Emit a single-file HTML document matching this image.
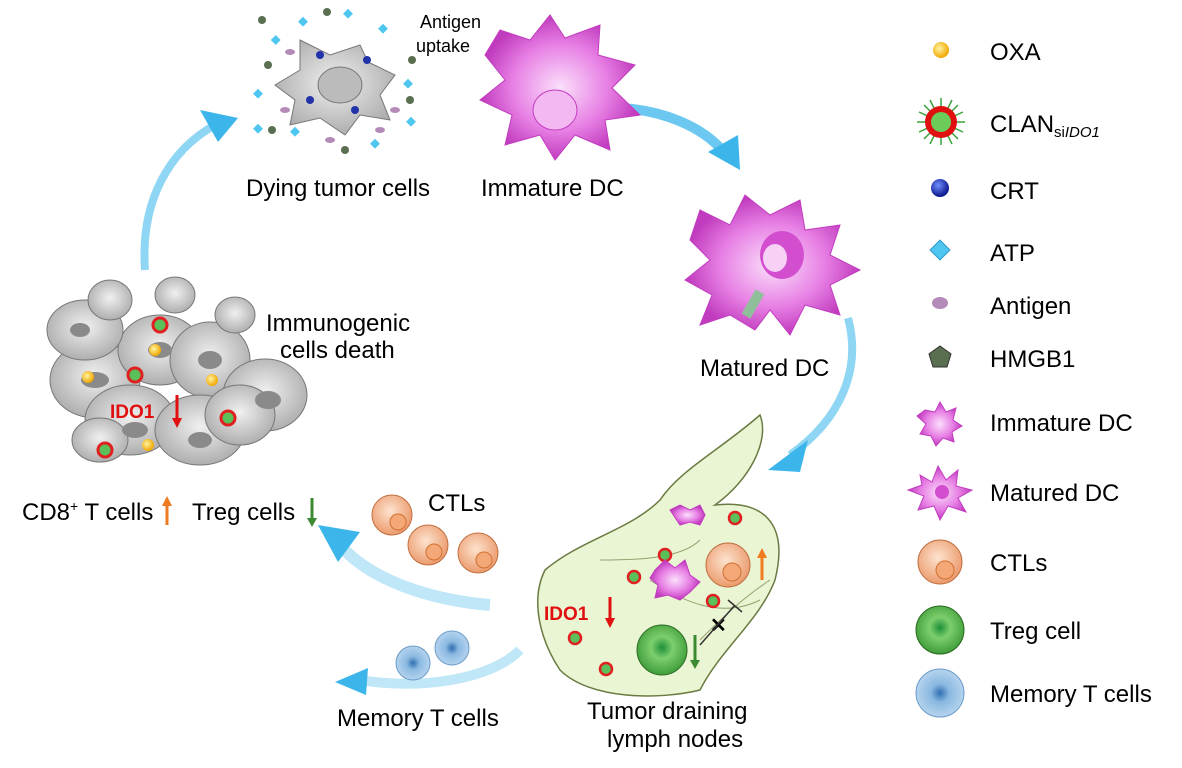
<!DOCTYPE html>
<html><head><meta charset="utf-8"><style>
body{margin:0;background:#fff;}
svg{display:block;font-family:"Liberation Sans",Arial,sans-serif;}
</style></head><body>
<svg width="1182" height="768" viewBox="0 0 1182 768" xmlns="http://www.w3.org/2000/svg">
<defs>
<radialGradient id="mag" cx="50%" cy="50%" r="50%"><stop offset="0" stop-color="#fbe0fb"/><stop offset="0.6" stop-color="#e77fe4"/><stop offset="1" stop-color="#c03bbd"/></radialGradient>
<radialGradient id="gray" cx="50%" cy="45%" r="60%"><stop offset="0" stop-color="#f0f0f0"/><stop offset="1" stop-color="#a8a8a8"/></radialGradient>
<radialGradient id="ctl" cx="45%" cy="40%" r="60%"><stop offset="0" stop-color="#fde3cf"/><stop offset="1" stop-color="#eb9a6c"/></radialGradient>
<radialGradient id="treg" cx="50%" cy="45%" r="55%"><stop offset="0" stop-color="#1d8f3a"/><stop offset="0.4" stop-color="#7ccf6c"/><stop offset="1" stop-color="#3f9c3a"/></radialGradient>
<radialGradient id="mem" cx="50%" cy="50%" r="55%"><stop offset="0" stop-color="#2f6fb0"/><stop offset="0.35" stop-color="#8ab8e0"/><stop offset="1" stop-color="#bcd8f0"/></radialGradient>
<radialGradient id="oxa" cx="40%" cy="40%" r="60%"><stop offset="0" stop-color="#fff3a0"/><stop offset="1" stop-color="#f0a800"/></radialGradient>
<radialGradient id="crt" cx="40%" cy="35%" r="60%"><stop offset="0" stop-color="#7090ff"/><stop offset="1" stop-color="#101a90"/></radialGradient>
</defs>

<!-- arrows -->
<path d="M145 270 C140 200 170 150 215 125" stroke="#8fd6f4" stroke-width="8" fill="none"/>
<polygon points="200,110 238,118 218,142" fill="#3cb6ea"/>
<path d="M620 108 C660 110 700 125 722 150" stroke="#6cc8f0" stroke-width="10" fill="none"/>
<polygon points="708,152 740,170 738,135" fill="#3cb6ea"/>
<path d="M848 318 C862 370 840 420 790 455" stroke="#8fd6f4" stroke-width="8" fill="none"/>
<polygon points="768,470 808,440 800,472" fill="#3cb6ea"/>
<path d="M490 605 C430 600 370 580 340 545" stroke="#bfe7f8" stroke-width="12" fill="none"/>
<polygon points="318,525 360,532 338,562" fill="#3cb6ea"/>
<path d="M520 650 C490 680 420 690 360 680" stroke="#bfe7f8" stroke-width="10" fill="none"/>
<polygon points="335,682 368,668 366,695" fill="#3cb6ea"/>

<!-- dying tumor cell -->
<path d="M300 40 L330 55 L360 45 L368 62 L395 75 L380 95 L390 120 L360 115 L345 135 L320 118 L290 125 L295 100 L275 85 L300 70 Z" fill="url(#gray)" stroke="#777"/>
<ellipse cx="340" cy="85" rx="22" ry="18" fill="#bbb" stroke="#777"/>
<g fill="#4ec6ef"><rect x="272" y="36" width="7" height="7" transform="rotate(45 275 40)"/><rect x="300" y="18" width="7" height="7" transform="rotate(45 303 21)"/><rect x="345" y="10" width="7" height="7" transform="rotate(45 348 13)"/><rect x="380" y="25" width="7" height="7" transform="rotate(45 383 28)"/><rect x="405" y="80" width="7" height="7" transform="rotate(45 408 83)"/><rect x="408" y="118" width="7" height="7" transform="rotate(45 411 121)"/><rect x="292" y="128" width="7" height="7" transform="rotate(45 295 131)"/><rect x="255" y="90" width="7" height="7" transform="rotate(45 258 93)"/><rect x="372" y="140" width="7" height="7" transform="rotate(45 375 143)"/><rect x="255" y="125" width="7" height="7" transform="rotate(45 258 128)"/></g>
<g fill="#5a6e50"><circle cx="262" cy="20" r="4"/><circle cx="327" cy="12" r="4"/><circle cx="412" cy="60" r="4"/><circle cx="268" cy="65" r="4"/><circle cx="272" cy="130" r="4"/><circle cx="345" cy="150" r="4"/><circle cx="410" cy="100" r="4"/></g>
<g fill="#2233aa"><circle cx="310" cy="100" r="4"/><circle cx="367" cy="60" r="4"/><circle cx="355" cy="110" r="4"/><circle cx="320" cy="55" r="4"/></g>
<g fill="#b48ab8"><ellipse cx="285" cy="110" rx="5" ry="3"/><ellipse cx="395" cy="110" rx="5" ry="3"/><ellipse cx="330" cy="140" rx="5" ry="3"/><ellipse cx="290" cy="52" rx="5" ry="3"/><ellipse cx="380" cy="130" rx="5" ry="3"/></g>
<text x="420" y="28" font-size="18">Antigen</text><text x="416" y="52" font-size="18">uptake</text>
<text x="246" y="196" font-size="24">Dying tumor cells</text>

<!-- immature DC -->
<path d="M500 30 L530 40 L550 15 L565 38 L600 25 L598 55 L635 65 L612 88 L640 115 L605 120 L610 150 L575 135 L555 160 L540 135 L505 145 L512 115 L480 100 L505 80 L485 55 Z" fill="url(#mag)" stroke="#c23cc0"/>
<ellipse cx="555" cy="110" rx="22" ry="20" fill="#f3b8f1" stroke="#c23cc0"/>
<text x="481" y="196" font-size="24">Immature DC</text>

<!-- matured DC -->
<path d="M700 210 L730 225 L745 195 L770 215 L800 200 L805 230 L840 225 L830 255 L860 270 L830 285 L840 315 L805 305 L790 335 L770 310 L755 330 L730 315 L700 325 L712 295 L685 280 L710 260 L690 240 Z" fill="url(#mag)" stroke="#c23cc0"/>
<ellipse cx="782" cy="255" rx="22" ry="24" fill="#d24ecf"/>
<ellipse cx="775" cy="258" rx="12" ry="14" fill="#f6d0f5"/>
<rect x="748" y="290" width="10" height="28" fill="#8fbf9a" transform="rotate(30 753 304)"/>
<text x="700" y="376" font-size="24">Matured DC</text>

<!-- cluster of tumor cells -->
<g stroke="#777" fill="url(#gray)">
<ellipse cx="95" cy="380" rx="45" ry="38"/><ellipse cx="160" cy="350" rx="42" ry="35"/><ellipse cx="210" cy="360" rx="40" ry="38"/><ellipse cx="265" cy="395" rx="42" ry="36"/>
<ellipse cx="85" cy="330" rx="38" ry="30"/><ellipse cx="130" cy="420" rx="45" ry="35"/><ellipse cx="200" cy="430" rx="45" ry="35"/><ellipse cx="240" cy="415" rx="35" ry="30"/>
<ellipse cx="110" cy="300" rx="22" ry="20"/><ellipse cx="175" cy="295" rx="20" ry="18"/><ellipse cx="235" cy="315" rx="20" ry="18"/><ellipse cx="100" cy="440" rx="28" ry="22"/>
</g>
<g fill="#8a8a8a"><ellipse cx="95" cy="380" rx="14" ry="8"/><ellipse cx="160" cy="350" rx="12" ry="8"/><ellipse cx="210" cy="360" rx="12" ry="9"/><ellipse cx="268" cy="400" rx="13" ry="9"/><ellipse cx="135" cy="430" rx="13" ry="8"/><ellipse cx="200" cy="440" rx="12" ry="8"/><ellipse cx="80" cy="330" rx="10" ry="7"/></g>
<g fill="#5cc05a" stroke="#e02020" stroke-width="3"><circle cx="160" cy="325" r="7"/><circle cx="135" cy="375" r="7"/><circle cx="228" cy="418" r="7"/><circle cx="105" cy="450" r="7"/></g>
<g fill="url(#oxa)"><circle cx="88" cy="377" r="6"/><circle cx="155" cy="350" r="6"/><circle cx="212" cy="380" r="6"/><circle cx="148" cy="445" r="6"/></g>
<text x="110" y="418" font-size="19" font-weight="bold" fill="#e01010">IDO1</text>
<path d="M177 395 V422" stroke="#e01010" stroke-width="3"/><polygon points="172,418 182,418 177,428" fill="#e01010"/>
<text x="266" y="331" font-size="24">Immunogenic</text><text x="280" y="358" font-size="24">cells death</text>

<text x="22" y="520" font-size="24">CD8<tspan font-size="14" dy="-9">+</tspan><tspan dy="9"> T cells</tspan></text>
<path d="M167 525 V503" stroke="#f07a20" stroke-width="3"/><polygon points="162,506 172,506 167,496" fill="#f07a20"/>
<text x="192" y="520" font-size="24">Treg cells</text>
<path d="M312 498 V520" stroke="#3a8a30" stroke-width="3"/><polygon points="307,518 317,518 312,527" fill="#3a8a30"/>

<!-- CTLs -->
<g stroke="#c07040" fill="url(#ctl)"><circle cx="392" cy="515" r="20"/><circle cx="428" cy="545" r="20"/><circle cx="478" cy="553" r="20"/></g>
<g fill="#f4a878" stroke="#d07030"><circle cx="398" cy="522" r="8"/><circle cx="434" cy="552" r="8"/><circle cx="484" cy="560" r="8"/></g>
<text x="428" y="511" font-size="24">CTLs</text>

<!-- memory -->
<g stroke="#6a9ac8" fill="url(#mem)"><circle cx="413" cy="663" r="17"/><circle cx="452" cy="648" r="17"/></g>
<text x="337" y="726" font-size="24">Memory T cells</text>

<!-- lymph node -->
<path d="M760 415 C770 440 750 480 715 505 C760 500 790 520 775 580 C760 620 720 650 700 690 C660 700 590 700 560 670 C540 640 530 600 545 570 C580 540 630 530 660 500 C680 470 720 450 760 415 Z" fill="#eaf5d4" stroke="#6a7a40" stroke-width="1.5"/>
<path d="M600 560 C630 560 680 560 700 540 M650 580 C680 600 720 620 760 600 M700 640 C720 620 740 600 770 580" stroke="#98a070" fill="none"/>
<g stroke="#e02020" stroke-width="2.5" fill="#5cc05a"><circle cx="735" cy="518" r="6"/><circle cx="634" cy="577" r="6"/><circle cx="665" cy="555" r="6"/><circle cx="575" cy="638" r="6"/><circle cx="606" cy="669" r="6"/><circle cx="713" cy="601" r="6"/></g>
<path d="M670 510 L680 505 L690 510 L700 505 L705 515 L700 525 L690 522 L680 525 Z" fill="url(#mag)" stroke="#c23cc0"/>
<path d="M655 570 L665 560 L675 568 L685 560 L690 575 L700 582 L690 592 L680 600 L668 595 L655 598 L658 585 L650 578 Z" fill="url(#mag)" stroke="#c23cc0"/>
<circle cx="728" cy="565" r="22" fill="url(#ctl)" stroke="#c07040"/><circle cx="732" cy="572" r="9" fill="#f4a878" stroke="#d07030"/>
<path d="M762 580 V556" stroke="#f07a20" stroke-width="3"/><polygon points="757,558 767,558 762,548" fill="#f07a20"/>
<circle cx="662" cy="650" r="25" fill="url(#treg)" stroke="#2a6a20"/>
<path d="M695 635 V662" stroke="#3a8a30" stroke-width="3"/><polygon points="690,660 700,660 695,669" fill="#3a8a30"/>
<text x="710" y="632" font-size="20" font-weight="bold">✕</text>
<path d="M700 645 L735 605 M728 600 L742 612" stroke="#333" stroke-width="1.5"/>
<text x="544" y="620" font-size="19" font-weight="bold" fill="#e01010">IDO1</text>
<path d="M610 597 V622" stroke="#e01010" stroke-width="3"/><polygon points="605,618 615,618 610,628" fill="#e01010"/>
<text x="587" y="719" font-size="24">Tumor draining</text><text x="607" y="747" font-size="24">lymph nodes</text>

<!-- legend -->
<g font-size="24">
<circle cx="941" cy="50" r="8" fill="url(#oxa)"/><text x="990" y="60">OXA</text>
<g stroke="#3aa33a" stroke-width="1.5"><path d="M941 98 V145 M917 122 H965 M924 105 L958 139 M958 105 L924 139 M930 100 L952 144 M952 100 L930 144 M919 112 L963 132 M919 132 L963 112"/></g>
<circle cx="941" cy="122" r="16" fill="#e01010"/><circle cx="941" cy="122" r="10" fill="#6ccc5a"/>
<text x="990" y="132">CLAN<tspan font-size="15" dy="5">si</tspan><tspan font-size="15" font-style="italic">IDO1</tspan></text>
<circle cx="940" cy="188" r="9" fill="url(#crt)"/><text x="990" y="199">CRT</text>
<rect x="933" y="243" width="14" height="14" fill="#4ec6ef" stroke="#2a9ad0" transform="rotate(45 940 250)"/><text x="990" y="261">ATP</text>
<ellipse cx="940" cy="303" rx="8" ry="6" fill="#b48ab8"/><text x="990" y="314">Antigen</text>
<polygon points="940,346 951,354 947,367 933,367 929,354" fill="#5a6e50" stroke="#333"/><text x="990" y="367">HMGB1</text>
<path d="M925 410 L935 412 L940 402 L946 412 L956 408 L953 420 L962 426 L952 432 L954 442 L943 438 L936 446 L931 436 L920 434 L926 424 L917 416 Z" fill="url(#mag)" stroke="#c23cc0"/>
<text x="990" y="431">Immature DC</text>
<path d="M920 475 L932 482 L938 466 L946 480 L958 470 L956 486 L972 490 L958 498 L966 512 L948 506 L940 520 L934 506 L918 510 L924 496 L908 490 L922 485 Z" fill="url(#mag)" stroke="#c23cc0"/>
<circle cx="942" cy="492" r="7" fill="#d24ecf"/>
<text x="990" y="501">Matured DC</text>
<circle cx="940" cy="562" r="22" fill="url(#ctl)" stroke="#c07040"/><circle cx="945" cy="570" r="9" fill="#f4a878" stroke="#d07030"/>
<text x="990" y="571">CTLs</text>
<circle cx="940" cy="630" r="24" fill="url(#treg)" stroke="#2a6a20"/><text x="990" y="639">Treg cell</text>
<circle cx="940" cy="693" r="24" fill="url(#mem)" stroke="#6a9ac8"/><text x="990" y="702">Memory T cells</text>
</g>
</svg>
</body></html>
